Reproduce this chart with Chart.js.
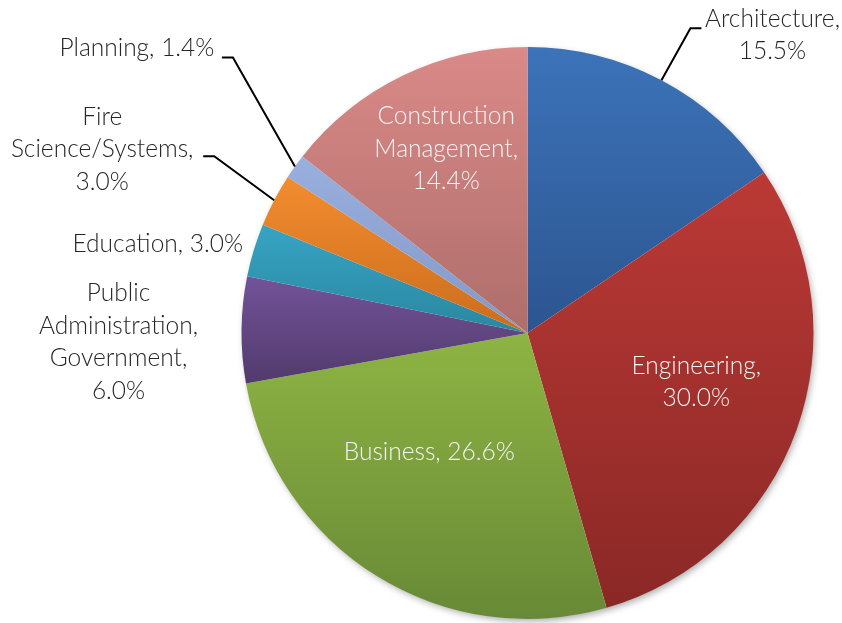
<!DOCTYPE html>
<html>
<head>
<meta charset="utf-8">
<script src="https://cdn.jsdelivr.net/npm/chart.js@4/dist/chart.umd.min.js"></script>
<style>
  html, body { margin: 0; padding: 0; background: #fff; }
  #wrap { width: 842px; height: 623px; }
</style>
</head>
<body>
<div id="wrap"><canvas id="pieChart"></canvas></div>
<script>
// data, clockwise from 12 o'clock
const categories = ['Architecture', 'Engineering', 'Business', 'Public Administration, Government',
  'Education', 'Fire Science/Systems', 'Planning', 'Construction Management'];
const shares = [15.5, 30.0, 26.6, 6.0, 3.0, 3.0, 1.4, 14.4];
const labelLines = [
  ['Architecture,', '15.5%'],
  ['Engineering,', '30.0%'],
  ['Business, 26.6%'],
  ['Public', 'Administration,', 'Government,', '6.0%'],
  ['Education, 3.0%'],
  ['Fire', 'Science/Systems,', '3.0%'],
  ['Planning, 1.4%'],
  ['Construction', 'Management,', '14.4%']
];

// gradient colours per slice (top, bottom)
const sliceColors = [
  ['#3c73b9', '#2c5590'],
  ['#bb3935', '#8a2826'],
  ['#8eb443', '#688936'],
  ['#735399', '#513a6c'],
  ['#37a4c4', '#2a87a0'],
  ['#f28c2f', '#cc6d1d'],
  ['#99b0de', '#8298c7'],
  ['#da8a88', '#ae6e6b']
];

// label placement: anchor at fraction f of radius on slice mid-angle, then offset
const labelPlace = [
  { f: 1, dx: 111, dy: -45, color: '#262626', leader: [[29, -52], [40, -52]] },
  { f: 0.65, dx: -6, dy: -14, color: '#f4f4f4' },
  { f: 0.65, dx: 0, dy: -39, color: '#f4f4f4' },
  { f: 1, dx: -123, dy: 12, color: '#262626' },
  { f: 1, dx: -96, dy: -6, color: '#262626' },
  { f: 1, dx: -172, dy: -51, color: '#262626', leader: [[-60, -44], [-71, -44]] },
  { f: 1, dx: -158, dy: -118, color: '#262626', leader: [[-62, -109], [-73, -109]] },
  { f: 0.65, dx: 0, dy: -17, color: '#f4f4f4' }
];

const FONT = '300 24.5px Lato, "Open Sans", sans-serif';
const LINE_H = 32.5;

function sliceGradient(ctx) {
  const chart = ctx.chart;
  const area = chart.chartArea;
  const i = ctx.dataIndex;
  if (!area) return sliceColors[i][0];
  const cx = (area.left + area.right) / 2;
  const cy = (area.top + area.bottom) / 2;
  const r = Math.min(area.right - area.left, area.bottom - area.top) / 2;
  const total = shares.reduce((a, b) => a + b, 0);
  let before = 0;
  for (let k = 0; k < i; k++) before += shares[k];
  const a0 = -Math.PI / 2 + before / total * Math.PI * 2;
  const a1 = a0 + shares[i] / total * Math.PI * 2;
  // vertical extent of the slice
  let ys = [cy, cy + r * Math.sin(a0), cy + r * Math.sin(a1)];
  [Math.PI / 2, Math.PI * 1.5, -Math.PI / 2].forEach(a => {
    if (a > a0 && a < a1) ys.push(cy + r * Math.sin(a));
  });
  const y0 = Math.min(...ys), y1 = Math.max(...ys);
  const g = chart.ctx.createLinearGradient(0, y0, 0, y1);
  g.addColorStop(0, sliceColors[i][0]);
  g.addColorStop(1, sliceColors[i][1]);
  return g;
}

const shadowPlugin = {
  id: 'pieShadow',
  beforeDatasetsDraw(chart) {
    const arc = chart.getDatasetMeta(0).data[0];
    if (!arc) return;
    const ctx = chart.ctx;
    ctx.save();
    ctx.shadowColor = 'rgba(0,0,0,0.35)';
    ctx.shadowBlur = 7;
    ctx.shadowOffsetX = 2;
    ctx.shadowOffsetY = 3;
    ctx.fillStyle = '#ffffff';
    ctx.beginPath();
    ctx.arc(arc.x, arc.y, arc.outerRadius - 1, 0, Math.PI * 2);
    ctx.fill();
    ctx.restore();
  }
};

const labelPlugin = {
  id: 'sliceLabels',
  afterDatasetsDraw(chart) {
    const ctx = chart.ctx;
    const arcs = chart.getDatasetMeta(0).data;
    ctx.save();
    ctx.font = FONT;
    ctx.textAlign = 'center';
    ctx.textBaseline = 'middle';
    arcs.forEach((arc, i) => {
      const p = labelPlace[i];
      const mid = (arc.startAngle + arc.endAngle) / 2;
      const ax = arc.x + Math.cos(mid) * arc.outerRadius * p.f;
      const ay = arc.y + Math.sin(mid) * arc.outerRadius * p.f;
      if (p.leader) {
        ctx.strokeStyle = '#000';
        ctx.lineWidth = 2;
        ctx.beginPath();
        ctx.moveTo(ax, ay);
        p.leader.forEach(pt => ctx.lineTo(ax + pt[0], ay + pt[1]));
        ctx.stroke();
      }
      const lines = labelLines[i];
      const top = ay + p.dy - (lines.length - 1) * LINE_H / 2;
      ctx.fillStyle = p.color;
      lines.forEach((t, j) => ctx.fillText(t, ax + p.dx, top + j * LINE_H));
    });
    ctx.restore();
  }
};

new Chart(document.getElementById('pieChart'), {
  type: 'pie',
  data: {
    labels: categories,
    datasets: [{
      data: shares,
      backgroundColor: sliceGradient,
      borderWidth: 0
    }]
  },
  options: {
    responsive: true,
    maintainAspectRatio: false,
    animation: false,
    layout: { padding: { left: 241, right: 28, top: 47, bottom: 4 } },
    plugins: {
      legend: { display: false },
      tooltip: { enabled: false }
    }
  },
  plugins: [shadowPlugin, labelPlugin]
});
</script>
</body>
</html>
